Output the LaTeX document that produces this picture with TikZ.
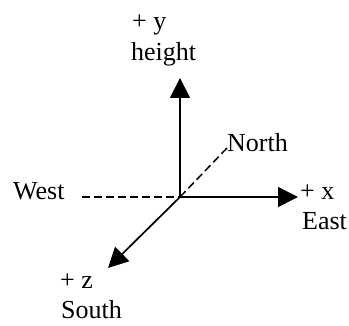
\documentclass[tikz,border=0pt]{standalone}
\usepackage{fontspec}
\setmainfont{Liberation Serif}
\usetikzlibrary{arrows.meta}

\begin{document}
\begin{tikzpicture}[
      x=1pt, y=-1pt,                                       % pixel grid, y down
      axis/.style={line width=1.7pt, -{Triangle[length=20pt, width=20pt]}},  % solid axis
      guide/.style={line width=1.5pt, dash pattern=on 8pt off 4pt},          % dashed direction
      lbl/.style={inner sep=0pt, anchor=base west,
                  font=\fontsize{26}{28}\selectfont}]
    \useasboundingbox (0,0) rectangle (349,326);
    \coordinate (o)     at (180,197);
    \coordinate (ytip)  at (180,78);
    \coordinate (xtip)  at (298,197);
    \coordinate (ztip)  at (108,268);
    \coordinate (north) at (227,148);
    \coordinate (west)  at (82,197);
    \node[lbl] (py)  at (132,30)  {+ y};
    \node[lbl] (hgt) at (131,61)  {height};
    \node[lbl] (n)   at (227,152) {North};
    \node[lbl] (w)   at (13,200)  {West};
    \node[lbl] (px)  at (300,200) {+ x};
    \node[lbl] (e)   at (302,230) {East};
    \node[lbl] (pz)  at (60,289)  {+ z};
    \node[lbl] (s)   at (61,319)  {South};
    \draw[guide] (west) -- (o);                            % west half, dashed
    \draw[guide] (o) -- (north);                           % north half, dashed
    \foreach \t in {ytip, xtip, ztip}
      \draw[axis] (o) -- (\t);                             % the three axes
  \end{tikzpicture}
\end{document}
